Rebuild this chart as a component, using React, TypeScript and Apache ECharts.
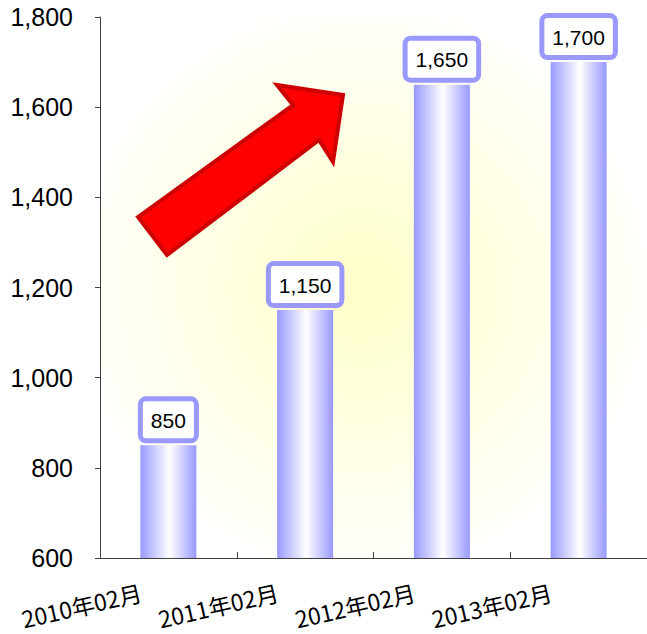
import React, { useEffect, useRef } from "react";
import * as echarts from "echarts";

const categories = ["2010年02月", "2011年02月", "2012年02月", "2013年02月"];
const values = [850, 1150, 1650, 1700];
const yMin = 600;
const yMax = 1800;
const yInterval = 200;

export default function App() {
  const ref = useRef<HTMLDivElement>(null);
  useEffect(() => {
    const chart = echarts.init(ref.current!, null, { renderer: "svg" });
    chart.setOption({
      animation: false,
      backgroundColor: "#ffffff",
      grid: {
        left: 100,
        right: 0,
        top: 17,
        bottom: 76,
        show: true,
        borderWidth: 0,
        backgroundColor: new echarts.graphic.RadialGradient(0.48, 0.5, 0.55, [
          { offset: 0, color: "#ffffc8" },
          { offset: 1, color: "#ffffff" },
        ]),
      },
      xAxis: {
        type: "category",
        data: categories,
        axisLine: { lineStyle: { color: "#404040", width: 1 } },
        axisTick: { show: true, inside: true, length: 6, alignWithLabel: false, lineStyle: { color: "#404040" } },
        axisLabel: {
          rotate: 13,
          interval: 0,
          fontSize: 23,
          color: "#000",
          fontFamily: "'Liberation Sans Narrow', 'Noto Sans CJK JP'",
          margin: 27,
          padding: [0, 28, 0, 0],
        },
      },
      yAxis: {
        type: "value",
        min: yMin,
        max: yMax,
        interval: yInterval,
        splitLine: { show: false },
        axisLine: { show: true, lineStyle: { color: "#404040", width: 1 } },
        axisTick: { show: true, length: 5, lineStyle: { color: "#404040" } },
        axisLabel: {
          fontSize: 25,
          color: "#000",
          fontFamily: "Liberation Sans",
          margin: 27,
          formatter: (v: number) => v.toLocaleString("en-US"),
        },
      },
      series: [
        {
          type: "bar",
          data: values,
          barWidth: 56,
          itemStyle: {
            color: new echarts.graphic.LinearGradient(0, 0, 1, 0, [
              { offset: 0, color: "#9999ff" },
              { offset: 0.52, color: "#ffffff" },
              { offset: 1, color: "#9999ff" },
            ]),
          },
          label: {
            show: true,
            position: "top",
            distance: 7,
            fontSize: 21,
            lineHeight: 22,
            color: "#000",
            fontFamily: "Liberation Sans",
            backgroundColor: "#ffffff",
            borderColor: "#9999ff",
            borderWidth: 5,
            borderRadius: 3,
            padding: [8, 8, 7, 8],
            formatter: (p: any) => Number(p.value).toLocaleString("en-US"),
          },
        },
      ],
      graphic: [
        {
          type: "polygon",
          z: 100,
          shape: {
            points: [
              [138, 217],
              [293, 105],
              [277, 85],
              [343, 95],
              [333, 162],
              [319, 140],
              [167, 255],
            ],
          },
          style: { fill: "#ff0000", stroke: "#cc0000", lineWidth: 4, lineJoin: "miter" },
        },
      ],
    });
    return () => chart.dispose();
  }, []);
  return (
    <div
      ref={ref}
      style={{ position: "fixed", left: 0, top: 0, width: 647, height: 634 }}
    />
  );
}
